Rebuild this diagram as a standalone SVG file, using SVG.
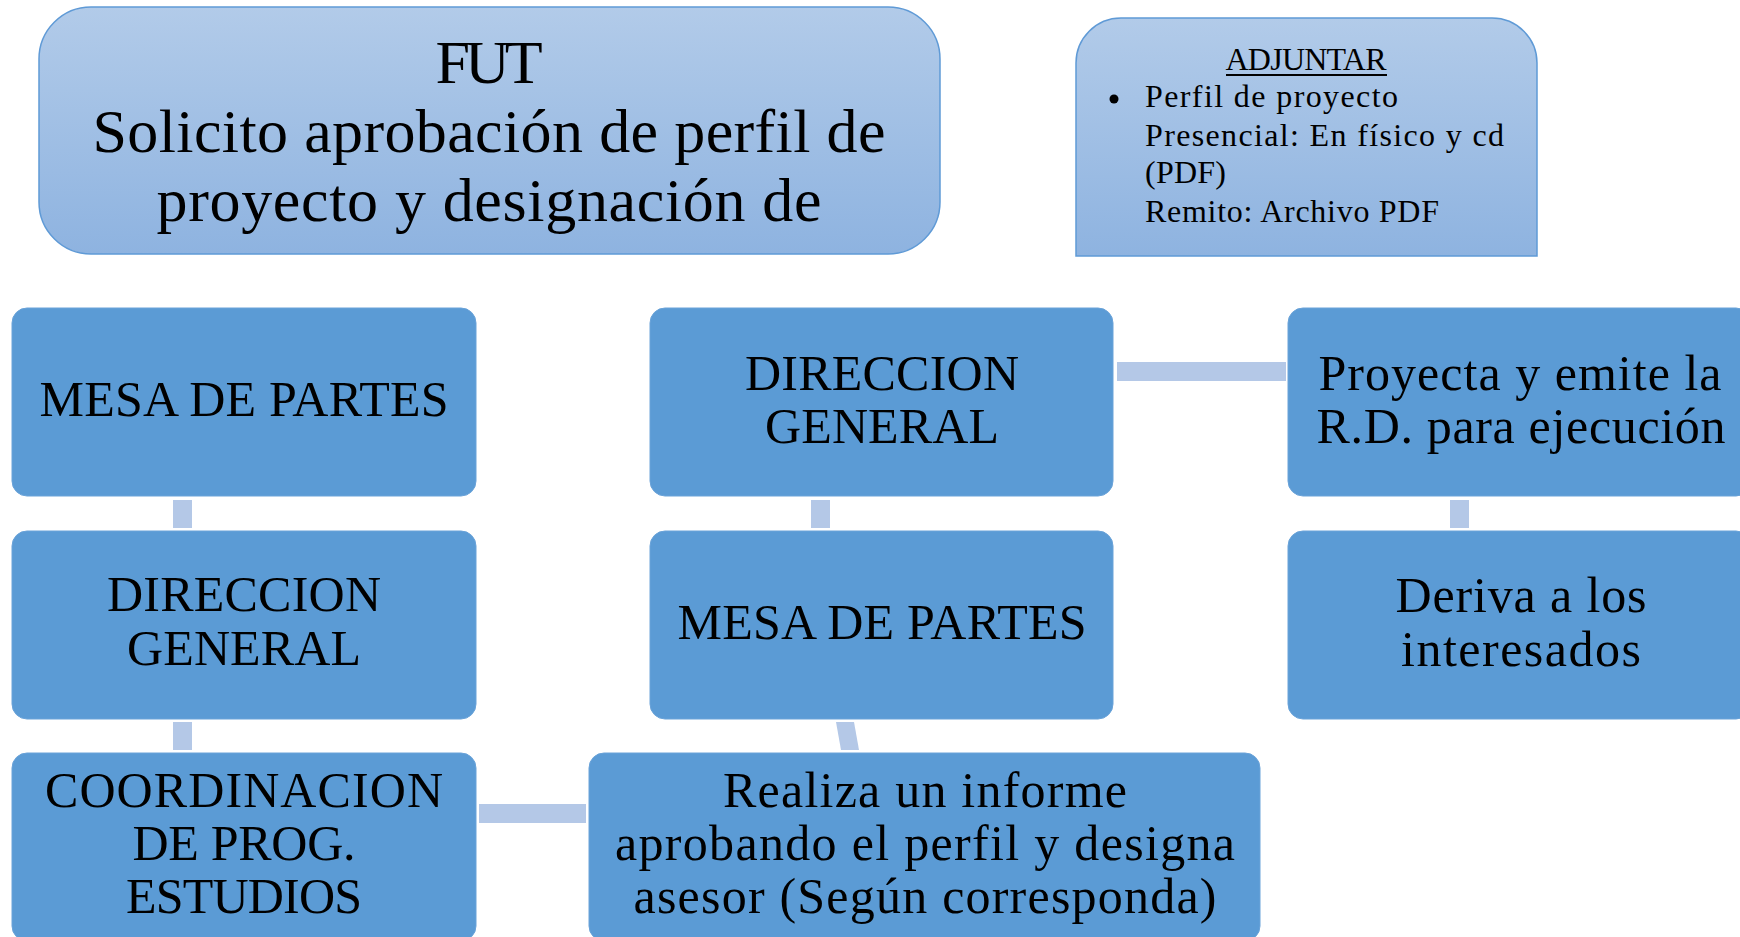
<svg xmlns="http://www.w3.org/2000/svg" width="1740" height="937" viewBox="0 0 1740 937">
<defs>
<linearGradient id="g" x1="0" y1="0" x2="0" y2="1">
<stop offset="0" stop-color="#b2cbe9"/>
<stop offset="1" stop-color="#8eb3e0"/>
</linearGradient>
<style>
.top{fill:url(#g);stroke:#5f9ad6;stroke-width:1.5}
.box{fill:#5b9bd5;stroke:#6aa3d9;stroke-width:1}
.con{fill:#b4c8e7}
.t1{font-family:"Liberation Serif",serif;font-size:62px;fill:#000;text-anchor:middle}
.t2{font-family:"Liberation Serif",serif;font-size:32px;fill:#000}
.t3{font-family:"Liberation Serif",serif;font-size:50px;fill:#000;text-anchor:middle}
</style>
</defs>
<rect width="1740" height="937" fill="#fff"/>
<g id="connectors">
<rect class="con" x="173" y="500" width="19" height="28"/>
<rect class="con" x="173" y="722" width="19" height="28"/>
<rect class="con" x="479" y="804" width="107" height="19"/>
<rect class="con" x="811" y="500" width="19" height="28"/>
<polygon class="con" points="836,722 854,722 859,750 841,750"/>
<rect class="con" x="1117" y="362" width="169" height="19"/>
<rect class="con" x="1450" y="500" width="19" height="28"/>
</g>
<g id="fut">
<rect class="top" x="39" y="7" width="901" height="247" rx="52" ry="52"/>
<text class="t1" x="489" y="83" textLength="107" lengthAdjust="spacing">FUT</text>
<text class="t1" x="489" y="152" textLength="793" lengthAdjust="spacing">Solicito aprobación de perfil de</text>
<text class="t1" x="489" y="221" textLength="665" lengthAdjust="spacing">proyecto y designación de</text>
</g>
<g id="adjuntar">
<path class="top" d="M1076,256 V63 A45,45 0 0 1 1121,18 H1492 A45,45 0 0 1 1537,63 V256 Z"/>
<text class="t2" x="1306" y="70" text-anchor="middle" textLength="161" lengthAdjust="spacing">ADJUNTAR</text>
<rect x="1226" y="74" width="161" height="2" fill="#000"/>
<circle cx="1114" cy="99" r="4.5" fill="#000"/>
<text class="t2" x="1145" y="107" textLength="253" lengthAdjust="spacing">Perfil de proyecto</text>
<text class="t2" x="1145" y="146" textLength="359" lengthAdjust="spacing">Presencial: En físico y cd</text>
<text class="t2" x="1145" y="183" textLength="81" lengthAdjust="spacing">(PDF)</text>
<text class="t2" x="1145" y="222" textLength="294" lengthAdjust="spacing">Remito: Archivo PDF</text>
</g>
<g id="mesa1">
<rect class="box" x="12" y="308" width="464" height="188" rx="15"/>
<text class="t3" x="244" y="416" textLength="409" lengthAdjust="spacing">MESA DE PARTES</text>
</g>
<g id="direccion1">
<rect class="box" x="12" y="531" width="464" height="188" rx="15"/>
<text class="t3" x="244" y="611" textLength="274" lengthAdjust="spacing">DIRECCION</text>
<text class="t3" x="244" y="665" textLength="234" lengthAdjust="spacing">GENERAL</text>
</g>
<g id="coordinacion">
<rect class="box" x="12" y="753" width="464" height="188" rx="15"/>
<text class="t3" x="244" y="807" textLength="398" lengthAdjust="spacing">COORDINACION</text>
<text class="t3" x="244" y="860" textLength="223" lengthAdjust="spacing">DE PROG.</text>
<text class="t3" x="244" y="913" textLength="236" lengthAdjust="spacing">ESTUDIOS</text>
</g>
<g id="direccion2">
<rect class="box" x="650" y="308" width="463" height="188" rx="15"/>
<text class="t3" x="882" y="390" textLength="274" lengthAdjust="spacing">DIRECCION</text>
<text class="t3" x="882" y="443" textLength="234" lengthAdjust="spacing">GENERAL</text>
</g>
<g id="mesa2">
<rect class="box" x="650" y="531" width="463" height="188" rx="15"/>
<text class="t3" x="882" y="639" textLength="409" lengthAdjust="spacing">MESA DE PARTES</text>
</g>
<g id="realiza">
<rect class="box" x="589" y="753" width="671" height="188" rx="15"/>
<text class="t3" x="925" y="807" textLength="404" lengthAdjust="spacing">Realiza un informe</text>
<text class="t3" x="925" y="860" textLength="620" lengthAdjust="spacing">aprobando el perfil y designa</text>
<text class="t3" x="925" y="913" textLength="583" lengthAdjust="spacing">asesor (Según corresponda)</text>
</g>
<g id="proyecta">
<rect class="box" x="1288" y="308" width="463" height="188" rx="15"/>
<text class="t3" x="1520" y="390" textLength="403" lengthAdjust="spacing">Proyecta y emite la</text>
<text class="t3" x="1521" y="443" textLength="409" lengthAdjust="spacing">R.D. para ejecución</text>
</g>
<g id="deriva">
<rect class="box" x="1288" y="531" width="463" height="188" rx="15"/>
<text class="t3" x="1521" y="612" textLength="251" lengthAdjust="spacing">Deriva a los</text>
<text class="t3" x="1521" y="666" textLength="240" lengthAdjust="spacing">interesados</text>
</g>
</svg>
